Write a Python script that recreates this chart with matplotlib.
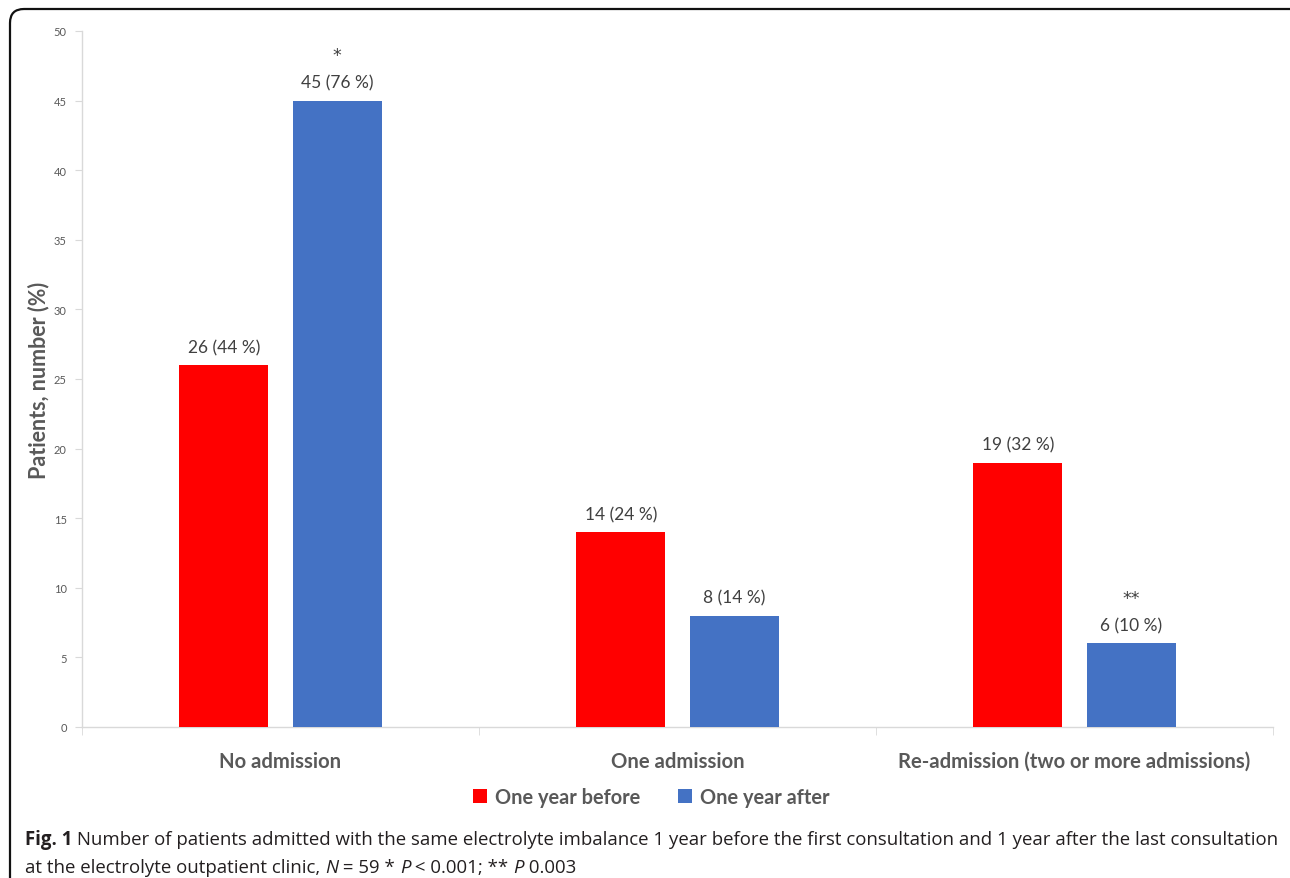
import numpy as np
import matplotlib
matplotlib.use("Agg")
import matplotlib.pyplot as plt
from matplotlib.patches import FancyBboxPatch

# Data
categories = ["No admission", "One admission", "Re-admission (two or more admissions)"]
before = [26, 14, 19]
after = [45, 8, 6]
before_pct = [44, 24, 32]
after_pct = [76, 14, 10]
after_marks = ["*", "", "**"]
series_names = ["One year before", "One year after"]
yticks = [0, 5, 10, 15, 20, 25, 30, 35, 40, 45, 50]

red = "#ff0000"
blue = "#4472c4"
grey_txt = "#595959"
val_txt = "#404040"
axis_grey = "#d9d9d9"
chart_font = "Lato"
cap_font = "Open Sans"

W, H = 1290, 879
fig = plt.figure(figsize=(W / 100, H / 100), dpi=100)
ax = fig.add_axes([82 / W, 1 - 728 / H, (1273 - 82) / W, (728 - 32) / H])

x = np.arange(len(categories))
bw = 0.224
off = 0.143
b1 = ax.bar(x - off, before, width=bw, color=red, label=series_names[0], zorder=3)
b2 = ax.bar(x + off, after, width=bw, color=blue, label=series_names[1], zorder=3)

# value labels
for i in range(len(categories)):
    ax.annotate(f"{before[i]} ({before_pct[i]} %)", (x[i] - off, before[i]),
                xytext=(0, 7), textcoords="offset points", ha="center", va="bottom",
                fontsize=12.5, color=val_txt, family=chart_font)
    ax.annotate(f"{after[i]} ({after_pct[i]} %)", (x[i] + off, after[i]),
                xytext=(0, 7), textcoords="offset points", ha="center", va="bottom",
                fontsize=12.5, color=val_txt, family=chart_font)
    if after_marks[i]:
        ax.annotate(after_marks[i], (x[i] + off, after[i]),
                    xytext=(0, 33), textcoords="offset points", ha="center", va="center",
                    fontsize=12.5, color=val_txt, family="DejaVu Sans")

ax.set_xlim(-0.5, len(categories) - 0.5)
ax.set_ylim(0, 50)
ax.set_yticks(yticks)
ax.set_yticklabels([str(t) for t in yticks], fontsize=8, color=grey_txt, family=chart_font)
ax.tick_params(axis="y", length=5, color=axis_grey, pad=6)

ax.set_xticks(x)
ax.set_xticklabels(categories, fontsize=14.6, fontweight="bold", color=grey_txt, family=chart_font)
ax.tick_params(axis="x", which="major", length=0, pad=17)
ax.set_xticks(np.arange(len(categories) + 1) - 0.5, minor=True)
ax.tick_params(axis="x", which="minor", length=6, color=axis_grey)

for s in ["top", "right"]:
    ax.spines[s].set_visible(False)
for s in ["left", "bottom"]:
    ax.spines[s].set_color(axis_grey)
    ax.spines[s].set_linewidth(1)

ax.set_ylabel("Patients, number (%)", fontsize=15.5, fontweight="bold", color=grey_txt,
              family=chart_font, labelpad=3)

fig.legend(handles=[b1, b2], labels=series_names, loc="center", bbox_to_anchor=(651 / W, 1 - 798 / H),
           ncol=2, frameon=False, handlelength=0.7, handleheight=0.7, handletextpad=0.4,
           columnspacing=1.9, prop={"family": chart_font, "weight": "bold", "size": 14.4},
           labelcolor=grey_txt)

# rounded frame around the figure (open at the right and bottom)
frame = FancyBboxPatch((10, -40), W + 20, H + 30, boxstyle="round,pad=0,rounding_size=14",
                       transform=None, fill=False, edgecolor="#111111", linewidth=1.6,
                       clip_on=False)
fig.patches.append(frame)

# caption, pieced together with mixed styles
fig.canvas.draw()
renderer = fig.canvas.get_renderer()


def put_line(pieces, x0, y0):
    xpos = x0
    for txt, kw in pieces:
        t = fig.text(xpos / W, 1 - y0 / H, txt, transform=fig.transFigure, va="baseline",
                     ha="left", fontsize=13.4, color="#231f20", family=cap_font, **kw)
        bb = t.get_window_extent(renderer=renderer)
        xpos = bb.x1


put_line([("Fig. 1", {"fontweight": "bold"}),
          (" Number of patients admitted with the same electrolyte imbalance 1 year before the first "
           "consultation and 1 year after the last consultation", {})], 25, 845)
put_line([("at the electrolyte outpatient clinic, ", {}), ("N", {"style": "italic"}),
          (" = 59 * ", {}), ("P", {"style": "italic"}), (" < 0.001; ** ", {}),
          ("P", {"style": "italic"}), (" 0.003", {})], 25, 873)

fig.savefig("out.png", dpi=100)
